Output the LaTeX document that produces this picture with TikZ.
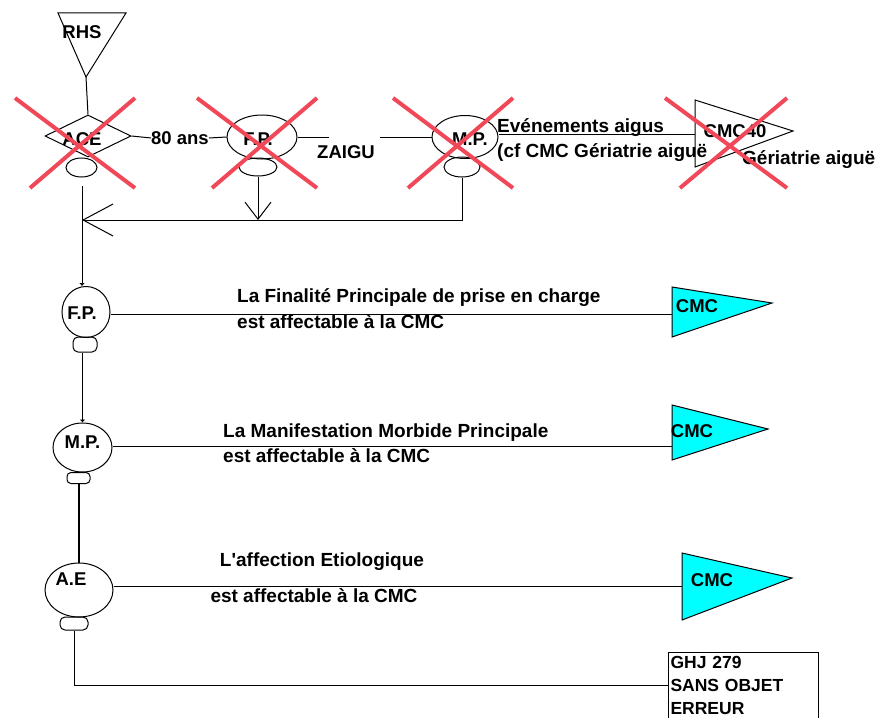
\documentclass[tikz,border=0pt]{standalone}
\usepackage{fontspec}
\setmainfont{Liberation Sans}[Ligatures=TeXOff]
\usetikzlibrary{shapes.geometric,arrows.meta}
\definecolor{xred}{RGB}{240,72,88}
\definecolor{cmcfill}{RGB}{0,255,255}
\begin{document}
\begin{tikzpicture}[x=1pt,y=-1pt,
  lbl/.style={font=\fontsize{18.5}{22}\selectfont\bfseries, inner sep=0},
  txt/.style={font=\fontsize{19}{22}\selectfont\bfseries, inner sep=0, anchor=west},
  bigell/.style={draw, ellipse, inner sep=0, line width=1pt},
  base/.style={draw, ellipse, inner sep=0, line width=1pt},
  basebox/.style={draw, rectangle, rounded corners=5pt, inner sep=0, line width=1pt},
  wire/.style={line width=1pt},
  thickwire/.style={line width=2pt},
  flag/.style={draw, line width=1pt, fill=cmcfill},
  tick/.style={-{Latex[length=3pt,width=6pt]}},
  cross/.style={draw=xred, line width=4pt}]
\useasboundingbox (0,0) rectangle (880,717);
\fill[white] (0,0) rectangle (880,717);
\clip (0,0) rectangle (880,717);

% ---- top row ----
\coordinate (rhsL) at (58,13);
\coordinate (rhsR) at (126,13);
\coordinate (rhsT) at (86,77);
\draw[wire] (rhsL) -- (rhsR) -- (rhsT) -- cycle;
\node[lbl] (rhs) at (82,32) {RHS};

\node[draw, diamond, minimum width=86pt, minimum height=42pt, inner sep=0, line width=1pt] (ace) at (88,136) {};
\node[lbl] (acet) at (82,139) {ACE};
\node[base, minimum width=31pt, minimum height=19pt] (aces) at (81.5,167.5) {};
\draw[wire] (rhsT) -- (ace.north);

\node[lbl] (t80) at (180,138) {80 ans};
\node[bigell, minimum width=70pt, minimum height=44pt] (fp1) at (262,137) {};
\node[lbl] (fp1t) at (258,139) {F.P.};
\node[base, minimum width=38pt, minimum height=18pt] (fp1s) at (258,167) {};
\draw[wire] (ace.east) -- (t80.west);
\draw[wire] (t80.east) -- (fp1.west);

\coordinate (z1) at (329,137);
\coordinate (z2) at (380,137);
\node[lbl] (zaigu) at (346,152) {ZAIGU};

\node[bigell, minimum width=66pt, minimum height=43pt] (mp1) at (465,137) {};
\node[lbl] (mp1t) at (470,139) {M.P.};
\node[base, minimum width=36pt, minimum height=20pt] (mp1s) at (462,167) {};
\draw[wire] (fp1.east) -- (z1);
\draw[wire] (z2) -- (mp1.west);

\coordinate (c40a) at (695,100);
\coordinate (c40b) at (695,167);
\coordinate (c40c) at (793,131);
\coordinate (c40in) at (695,134);
\draw[wire] (c40a) -- (c40c) -- (c40b) -- cycle;
\node[lbl] (c40t) at (735,131) {CMC40};
\draw[wire] (c40in -| mp1.east) -- (c40in);
\node[txt] (ev1) at (497,128) {Evénements aigus};
\node[txt] (ev2) at (497,153) {(cf CMC Gériatrie aiguë};
\node[txt] (ger) at (742,160) {Gériatrie aiguë};

% ---- return line ----
\coordinate (j1) at (258,220);
\coordinate (j0) at (82,220);
\draw[wire, -{Straight Barb[length=17pt,width=26pt]}] (fp1s.south) -- (j1);
\draw[wire, -{Straight Barb[length=30pt,width=32pt]}] (mp1s.south) |- (j0);

% ---- left column ----
\coordinate (a0) at (82,186);
\node[bigell, minimum width=48pt, minimum height=51pt] (fp2) at (86,312) {};
\node[lbl] (fp2t) at (82,313) {F.P.};
\node[basebox, minimum width=24pt, minimum height=15pt] (fp2s) at (85,344.5) {};
\draw[wire, tick] (a0) -- (a0 |- fp2.north);

\node[bigell, minimum width=59pt, minimum height=49pt] (mp2) at (82.5,447.5) {};
\node[lbl] (mp2t) at (82.5,442) {M.P.};
\node[basebox, minimum width=23pt, minimum height=11pt, rounded corners=4pt] (mp2s) at (78.5,478) {};
\draw[wire, tick] (fp2s.south -| mp2.north) -- (mp2.north);

\node[bigell, minimum width=68pt, minimum height=54pt] (ae) at (79,590) {};
\node[lbl] (aet) at (71,579) {A.E};
\node[basebox, minimum width=28pt, minimum height=13pt, rounded corners=5pt] (aes) at (74,623.5) {};
\draw[thickwire] (mp2s.south) -- (mp2s.south |- ae.north);

% ---- CMC flags ----
\coordinate (f1a) at (672,287);
\coordinate (f1b) at (772,303);
\coordinate (f1c) at (672,337);
\coordinate (f1in) at (672,314);
\draw[flag] (f1a) -- (f1b) -- (f1c) -- cycle;
\node[lbl] (f1t) at (697,306) {CMC};
\draw[wire] (f1in -| fp2.east) -- (f1in);
\node[txt] (l1a) at (237,298) {La Finalité Principale de prise en charge};
\node[txt] (l1b) at (237,322) {est affectable à la CMC};

\coordinate (f2a) at (672,405);
\coordinate (f2b) at (768,429);
\coordinate (f2c) at (672,460);
\coordinate (f2in) at (672,446);
\draw[flag] (f2a) -- (f2b) -- (f2c) -- cycle;
\node[lbl] (f2t) at (692,431) {CMC};
\draw[wire] (f2in -| mp2.east) -- (f2in);
\node[txt] (l2a) at (223,433) {La Manifestation Morbide Principale};
\node[txt] (l2b) at (223,456) {est affectable à la CMC};

\coordinate (f3a) at (682,553);
\coordinate (f3b) at (792,578);
\coordinate (f3c) at (682,620);
\coordinate (f3in) at (682,586);
\draw[flag] (f3a) -- (f3b) -- (f3c) -- cycle;
\node[lbl] (f3t) at (712,580) {CMC};
\draw[wire] (f3in -| ae.east) -- (f3in);
\node[txt, anchor=center] (l3a) at (322,562) {L'affection Etiologique};
\node[txt, anchor=center] (l3b) at (314,596) {est affectable à la CMC};

% ---- box ----
\node[draw, line width=1pt, anchor=north west, inner xsep=2pt, inner ysep=3.5pt,
      text width=146pt, align=left,
      font=\fontsize{17.5}{23}\selectfont\bfseries] (box) at (668,652)
      {GHJ 279\\SANS OBJET\\ERREUR\rule[-12pt]{0pt}{12pt}};
\coordinate (boxin) at (668,685);
\draw[wire] (aes.south) |- (boxin);

% ---- red crosses ----
\draw[cross] (15,98) -- (135,188);
\draw[cross] (135,98) -- (30,188);
\draw[cross] (197,98) -- (317,188);
\draw[cross] (317,98) -- (212,188);
\draw[cross] (393,98) -- (513,188);
\draw[cross] (513,98) -- (408,188);
\draw[cross] (665,98) -- (787,188);
\draw[cross] (787,98) -- (680,188);
\end{tikzpicture}
\end{document}
